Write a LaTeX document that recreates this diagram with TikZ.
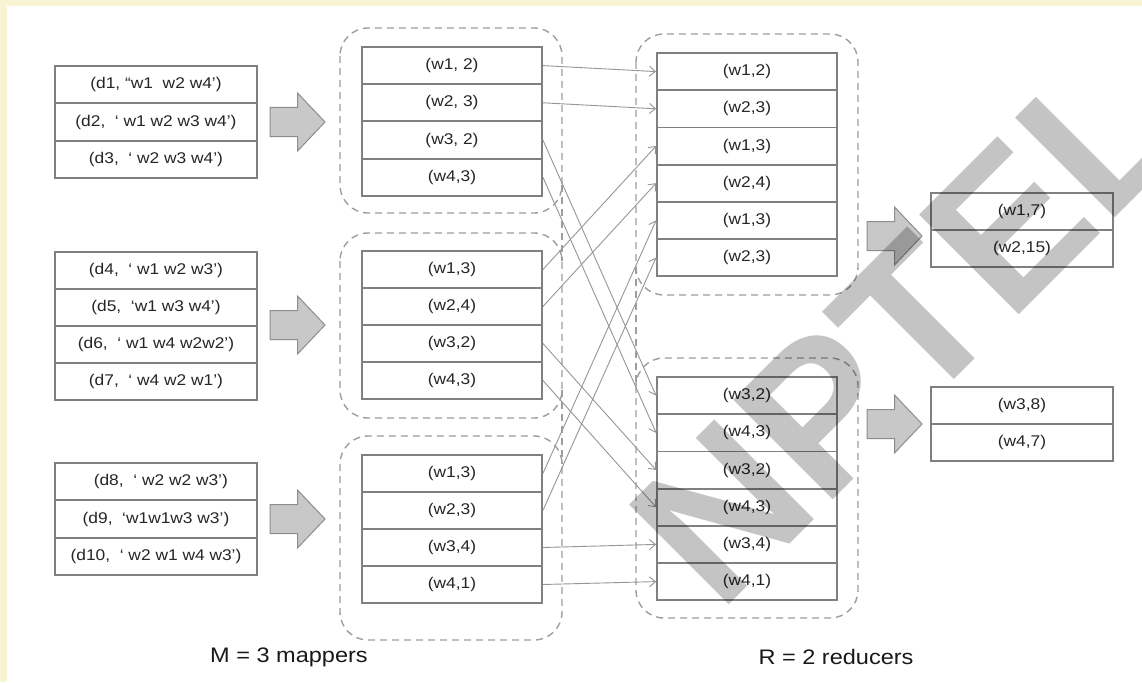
\documentclass[tikz,border=0pt]{standalone}
\usepackage{fontspec}
\setmainfont[FakeStretch=1.12]{Liberation Sans}
\newfontfamily\wmfont{Liberation Sans}
\usepackage{tikz}
\usetikzlibrary{arrows,arrows.meta}

\definecolor{cream}{RGB}{248,243,210}
\definecolor{boxgray}{RGB}{128,128,128}
\definecolor{dashgray}{RGB}{158,158,158}
\definecolor{linkgray}{RGB}{150,150,150}
\definecolor{fatgray}{RGB}{200,200,200}

% fat grey arrow: tail at (x,y), pointing right
\newcommand{\fatarrow}[2]{%
  \draw[fat] (#1,#2) ++(0,-14.5) -- ++(27.5,0) -- ++(0,-14.5) -- ++(27.5,29)
    -- ++(-27.5,29) -- ++(0,-14.5) -- ++(-27.5,0) -- cycle;}

\begin{document}
\begin{tikzpicture}[x=1pt,y=-1pt]

	\tikzstyle{cell} = [rectangle, draw=boxgray, line width=1.8pt, inner sep=0pt,
		minimum height=37.2pt, text=black!85, font=\fontsize{15.5}{17}\selectfont]
	\tikzstyle{incell} = [cell, minimum width=202pt]
	\tikzstyle{kvcell} = [cell, minimum width=180pt]
	\tikzstyle{outcell} = [cell, minimum width=182pt]
	\tikzstyle{group} = [draw=dashgray, line width=1.4pt, dash pattern=on 7pt off 5pt, rounded corners=28pt]
	\tikzstyle{gapline} = [draw=dashgray, line width=1.4pt, dash pattern=on 7pt off 5pt]
	\tikzstyle{link} = [draw=linkgray, line width=0.9pt, ->, >={Straight Barb[length=6pt,width=10pt]}]
	\tikzstyle{fat} = [fill=fatgray, draw=boxgray!90, line width=1pt]
	\tikzstyle{caption} = [draw=none, fill=none, text=black!90, font=\fontsize{21}{24}\selectfont]
	\tikzstyle{wm} = [text=black, opacity=0.23, rotate=45, inner sep=0pt,
		font=\wmfont\bfseries\fontsize{205}{205}\selectfont]

    \useasboundingbox (0,0) rectangle (1142,682);
    \fill[cream] (0,0) rectangle (1142,682);
    \fill[white] (7,6) rectangle (1142,682);

    % Input documents
    \node [incell] at (156,84.7) (in1_1) {(d1, ``w1~~w2 w4')};
    \node [incell] at (156,122) (in1_2) {(d2,~~`~w1 w2 w3 w4')};
    \node [incell] at (156,159.3) (in1_3) {(d3,~~`~w2 w3 w4')};

    \node [incell] at (156,270.5) (in2_1) {(d4,~~`~w1 w2 w3')};
    \node [incell] at (156,307.5) (in2_2) {(d5,~~`w1 w3 w4')};
    \node [incell] at (156,344.5) (in2_3) {(d6,~~`~w1 w4 w2w2')};
    \node [incell] at (156,381.5) (in2_4) {(d7,~~`~w4 w2 w1')};

    \node [incell] at (156,481.5) (in3_1) {~~(d8,~~`~w2 w2 w3')};
    \node [incell] at (156,519) (in3_2) {(d9,~~`w1w1w3 w3')};
    \node [incell] at (156,556) (in3_3) {(d10,~~`~w2 w1 w4 w3')};

    \fatarrow{270}{122}
    \fatarrow{270}{325}
    \fatarrow{270}{519}

    % Mappers
    \draw[group] (340,28) rectangle (562,213);
    \draw[group] (340,233) rectangle (562,418);
    \draw[group] (340,436) rectangle (562,640);
    \draw[gapline] (562,185) -- (562,261);
    \draw[gapline] (562,390) -- (562,464);

    \node [kvcell] at (452,65.6) (map1_1) {(w1, 2)};
    \node [kvcell] at (452,102.8) (map1_2) {(w2, 3)};
    \node [kvcell] at (452,140) (map1_3) {(w3, 2)};
    \node [kvcell] at (452,177.2) (map1_4) {(w4,3)};

    \node [kvcell] at (452,269.5) (map2_1) {(w1,3)};
    \node [kvcell] at (452,306.5) (map2_2) {(w2,4)};
    \node [kvcell] at (452,343.5) (map2_3) {(w3,2)};
    \node [kvcell] at (452,380.5) (map2_4) {(w4,3)};

    \node [kvcell] at (452,473.5) (map3_1) {(w1,3)};
    \node [kvcell] at (452,510.5) (map3_2) {(w2,3)};
    \node [kvcell] at (452,547.5) (map3_3) {(w3,4)};
    \node [kvcell] at (452,584.5) (map3_4) {(w4,1)};

    % Reducers
    \draw[group] (636,34) rectangle (858,295);
    \draw[group] (636,358) rectangle (858,618);
    \draw[gapline] (636,267) -- (636,386);

    \node [kvcell] at (747,71.6) (red1_1) {(w1,2)};
    \node [kvcell] at (747,108.8) (red1_2) {(w2,3)};
    \node [kvcell] at (747,146) (red1_3) {(w1,3)};
    \node [kvcell] at (747,183.2) (red1_4) {(w2,4)};
    \node [kvcell] at (747,220.4) (red1_5) {(w1,3)};
    \node [kvcell] at (747,257.6) (red1_6) {(w2,3)};

    \node [kvcell] at (747,395.6) (red2_1) {(w3,2)};
    \node [kvcell] at (747,432.8) (red2_2) {(w4,3)};
    \node [kvcell] at (747,470) (red2_3) {(w3,2)};
    \node [kvcell] at (747,507.2) (red2_4) {(w4,3)};
    \node [kvcell] at (747,544.4) (red2_5) {(w3,4)};
    \node [kvcell] at (747,581.6) (red2_6) {(w4,1)};

    % Shuffle edges
    \path [link] (map1_1.east) -- (red1_1.west);
    \path [link] (map1_2.east) -- (red1_2.west);
    \path [link] (map1_3.east) -- (red2_1.west);
    \path [link] (map1_4.east) -- (red2_2.west);
    \path [link] (map2_1.east) -- (red1_3.west);
    \path [link] (map2_2.east) -- (red1_4.west);
    \path [link] (map2_3.east) -- (red2_3.west);
    \path [link] (map2_4.east) -- (red2_4.west);
    \path [link] (map3_1.east) -- (red1_5.west);
    \path [link] (map3_2.east) -- (red1_6.west);
    \path [link] (map3_3.east) -- (red2_5.west);
    \path [link] (map3_4.east) -- (red2_6.west);

    % Output
    \fatarrow{867}{236}
    \fatarrow{867}{424}
    \node [outcell] at (1022,211.5) (out1_1) {(w1,7)};
    \node [outcell] at (1022,248.5) (out1_2) {(w2,15)};
    \node [outcell] at (1022,405.5) (out2_1) {(w3,8)};
    \node [outcell] at (1022,442.5) (out2_2) {(w4,7)};

    \node [caption] at (289,657) (mappers) {M = 3 mappers};
    \node [caption] at (836,657) (reducers) {R = 2 reducers};

    \node [wm] at (907,327) (mark) {NPTEL};
\end{tikzpicture}
\end{document}
